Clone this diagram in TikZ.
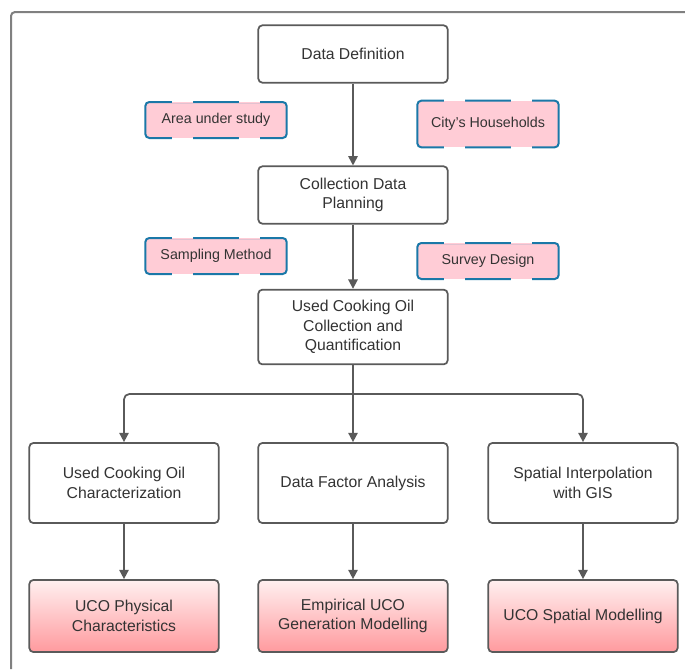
\documentclass[tikz,border=0pt]{standalone}
\usepackage{fontspec}
\setmainfont{Liberation Sans}
\usetikzlibrary{arrows.meta,positioning,calc}
\definecolor{linegray}{HTML}{5A5A5A}
\definecolor{framegray}{HTML}{808080}
\definecolor{notepink}{HTML}{FFCCD6}
\definecolor{noteblue}{HTML}{1A78A8}
\definecolor{textgray}{HTML}{333333}
\definecolor{outtop}{HTML}{FFF0F0}
\definecolor{outbottom}{HTML}{FF9A9E}

\begin{document}
\begin{tikzpicture}[
        x=0.75pt, y=-0.75pt,
        font=\fontsize{11.8}{14.5}\selectfont,
        >={Triangle[width=7pt,length=7pt]},
        stepbox/.style={draw=linegray, line width=1.3pt, rounded corners=3pt, fill=white, text=textgray,
            minimum width=142pt, align=center},
        notebox/.style={draw=noteblue, line width=1.5pt, rounded corners=3pt, fill=notepink, text=textgray,
            outer sep=0pt, minimum width=106pt, minimum height=27pt, align=center,
            font=\fontsize{10.7}{13}\selectfont},
        gapout/.style={draw=white, line width=1.3pt},
        gapin/.style={draw=notepink, line width=1pt},
        outbox/.style={draw=linegray, line width=1.3pt, rounded corners=3pt, top color=outtop, bottom color=outbottom,
            text=textgray, minimum width=142pt, minimum height=54pt, align=center},
        flow/.style={->, draw=linegray, line width=1.3pt}
    ]
    \useasboundingbox (0,0) rectangle (685,669);

    % Outer frame
    \draw[draw=framegray, line width=1.5pt, rounded corners=3pt] (11,669) -- (11,12) -- (685,12);

    % Main column
    \node[stepbox, minimum height=43pt] (datadef) at (353,54) {Data Definition};
    \node[stepbox, minimum height=43pt] (planning) at (353,195) {Collection Data\\Planning};
    \node[stepbox, minimum height=56pt] (ucocoll) at (353,327) {Used Cooking Oil\\Collection and\\Quantification};

    % Notes beside the column
    \node[notebox] (area) at (216,120) {Area under study};
    \node[notebox, minimum height=35pt] (households) at (488,124) {City's Households};
    \node[notebox] (sampling) at (216,256) {Sampling Method};
    \node[notebox] (survey) at (488,261) {Survey Design};

    % dashed look of the note borders
    \foreach \n in {area,households,sampling,survey}
        \foreach \s/\o/\i in {north/1/-1,south/-1/1}
            \foreach \d in {-1,1} {
                \draw[gapout] ($(\n.\s)+(\d*17pt,\o*0.55pt)$) -- ($(\n.\s)+(\d*33pt,\o*0.55pt)$);
                \draw[gapin] ($(\n.\s)+(\d*17pt,\i*0.45pt)$) -- ($(\n.\s)+(\d*33pt,\i*0.45pt)$);
            }

    % Analysis row
    \node[stepbox, minimum height=60pt] (charact) at (124,483) {Used Cooking Oil\\Characterization};
    \node[stepbox, minimum height=60pt] (factor) at (353,483) {Data Factor Analysis};
    \node[stepbox, minimum height=60pt] (spatial) at (583,483) {Spatial Interpolation\\with GIS};

    % Results row
    \node[outbox] (physical) at (124,616) {UCO Physical\\Characteristics};
    \node[outbox] (empirical) at (353,616) {Empirical UCO\\Generation Modelling};
    \node[outbox] (spatialmod) at (583,616) {UCO Spatial Modelling};

    \coordinate (split) at (353,394);

    % Connections
    \draw[flow] (datadef.south) -- (planning.north);
    \draw[flow] (planning.south) -- (ucocoll.north);
    \draw[flow] (ucocoll.south) -- (factor.north);
    \draw[flow, rounded corners=4pt] (split) -| (charact.north);
    \draw[flow, rounded corners=4pt] (split) -| (spatial.north);
    \draw[flow] (charact.south) -- (physical.north);
    \draw[flow] (factor.south) -- (empirical.north);
    \draw[flow] (spatial.south) -- (spatialmod.north);

    \end{tikzpicture}
\end{document}
